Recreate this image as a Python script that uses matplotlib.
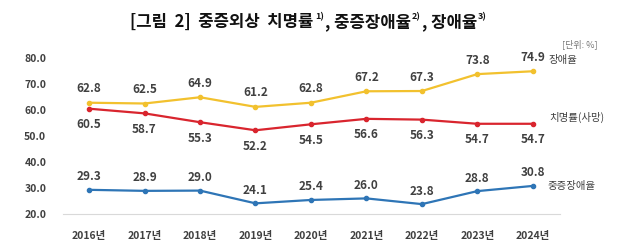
import numpy as np
import matplotlib.pyplot as plt

plt.rcParams['font.family'] = ['Noto Sans CJK KR', 'DejaVu Sans']

years = ['2016년', '2017년', '2018년', '2019년', '2020년', '2021년', '2022년', '2023년', '2024년']
disability = [62.8, 62.5, 64.9, 61.2, 62.8, 67.2, 67.3, 73.8, 74.9]
fatality = [60.5, 58.7, 55.3, 52.2, 54.5, 56.6, 56.3, 54.7, 54.7]
severe = [29.3, 28.9, 29.0, 24.1, 25.4, 26.0, 23.8, 28.8, 30.8]
yticks = [20, 30, 40, 50, 60, 70, 80]

txt = '#404040'
fig = plt.figure(figsize=(6.4, 2.45), dpi=100)
ax = fig.add_axes([63/640, 31/245, 497/640, 156/245])
x = np.arange(len(years))

series = [
    (disability, '#F2C12E', 14, '장애율'),
    (fatality, '#D9252E', -16, '치명률(사망)'),
    (severe, '#2E75B6', 13, '중증장애율'),
]
for vals, col, off, name in series:
    ax.plot(x, vals, color=col, lw=1.6, marker='o', ms=3, zorder=3)
    for xi, v in zip(x, vals):
        ax.annotate(f'{v:.1f}', (xi, v), xytext=(0, off), textcoords='offset pixels',
                    ha='center', va='center', fontsize=8.5, fontweight='bold', color=txt)

fig.text(549/640, 1 - 60/245, '장애율', fontsize=7.5, color=txt, va='center')
fig.text(549/640, 1 - 117/245, '치명률(사망)', fontsize=7.5, color=txt, va='center')
fig.text(548/640, 1 - 186/245, '중증장애율', fontsize=7.5, color=txt, va='center')

ax.set_xlim(-0.47, 8.49)
ax.set_ylim(20, 80)
ax.set_yticks(yticks)
ax.set_yticklabels([f'{t:.1f}' for t in yticks])
ax.set_xticks(x)
ax.set_xticklabels(years)
for s in ['top', 'right', 'left']:
    ax.spines[s].set_visible(False)
ax.spines['bottom'].set_color('#d9d9d9')
ax.tick_params(axis='both', length=0, labelsize=7.5, labelcolor=txt)
ax.tick_params(axis='y', pad=12)
ax.tick_params(axis='x', pad=12)
for lab in ax.get_xticklabels() + ax.get_yticklabels():
    lab.set_fontweight('bold')

# title built from pieces so the footnote marks can be small superscripts
parts = [('[그림  2]  중증외상  치명률', 12, 0), ('1)', 6.5, 5), (', 중증장애율', 12, 0), ('2)', 6.5, 5),
         (', 장애율', 12, 0), ('3)', 6.5, 5)]
r = fig.canvas.get_renderer()
ty = 245 - 22
items = []
total = 0
for s, fs, dy in parts:
    t = fig.text(0, 0, s, fontsize=fs, fontweight='bold', color='#111111', va='center',
                 transform=None)
    w = t.get_window_extent(r).width
    items.append((t, w, dy))
    total += w + 1
xpos = 309 - total / 2
for t, w, dy in items:
    t.set_position((xpos, ty + dy))
    xpos += w + 1

fig.text(598/640, 1 - 44/245, '[단위: %]', ha='right', va='center', fontsize=6.5, color='#777777')

fig.savefig('out.png', dpi=100)
